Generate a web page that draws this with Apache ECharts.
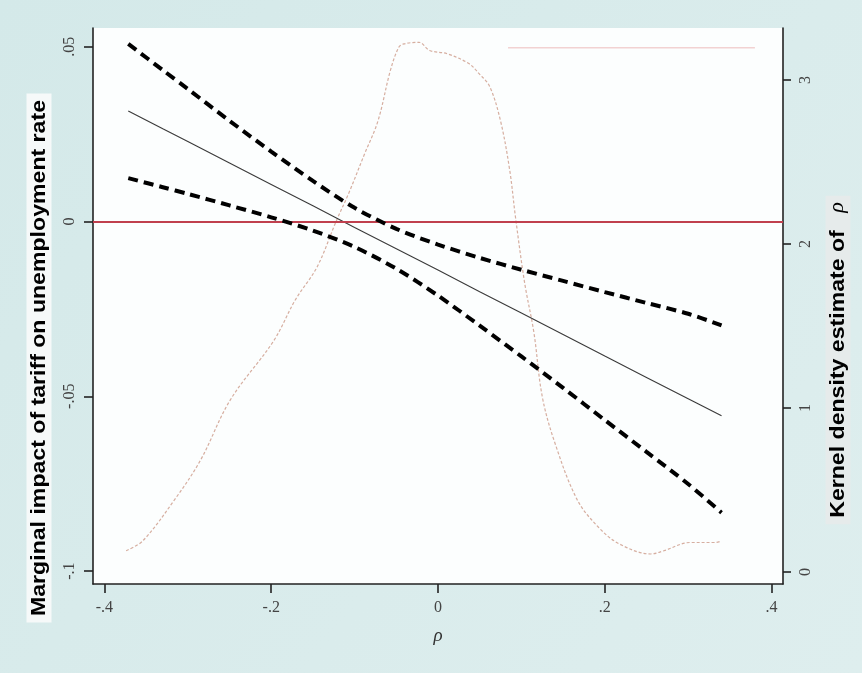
<!DOCTYPE html>
<html>
<head>
<meta charset="utf-8">
<script src="https://cdn.jsdelivr.net/npm/echarts@6/dist/echarts.min.js"></script>
<style>
html,body{margin:0;padding:0;background:#d9ecec;}
#chart{width:862px;height:673px;}
</style>
</head>
<body>
<div id="chart"></div>
<script>
// Tick values and labels
var xTickVals = [-0.4, -0.2, 0, 0.2, 0.4];
var xTickLabels = ['-.4', '-.2', '0', '.2', '.4'];
var yLeftTickVals = [-0.1, -0.05, 0, 0.05];
var yLeftTickLabels = ['-.1', '-.05', '0', '.05'];
var yRightTickVals = [0, 1, 2, 3];
var yRightTickLabels = ['0', '1', '2', '3'];

// Marginal impact and confidence bounds
var rhoX = [-0.3714, -0.33, -0.3, -0.25, -0.2, -0.15, -0.1, -0.05, 0, 0.05, 0.1, 0.15, 0.2, 0.25, 0.3, 0.34];
var fitted = [0.0316, 0.0265, 0.0229, 0.0167, 0.0106, 0.0045, -0.0017, -0.0078, -0.0139, -0.0201, -0.0262, -0.0323, -0.0385, -0.0446, -0.0507, -0.0556];
var upperCI = [0.0508, 0.0433, 0.0379, 0.0288, 0.0200, 0.0116, 0.0039, -0.0021, -0.0066, -0.0104, -0.0138, -0.0170, -0.0202, -0.0233, -0.0264, -0.0297];
var lowerCI = [0.0124, 0.0098, 0.0079, 0.0046, 0.0012, -0.0026, -0.0073, -0.0135, -0.0212, -0.0298, -0.0386, -0.0476, -0.0568, -0.0659, -0.0751, -0.0833];

// Kernel density of rho
var densX = [-0.374, -0.354, -0.316, -0.285, -0.249, -0.197, -0.171, -0.145, -0.122, -0.107, -0.088, -0.072, -0.057, -0.047, -0.041, -0.023, -0.010, 0.011, 0.037, 0.049, 0.062, 0.075, 0.086, 0.093, 0.104, 0.115, 0.125, 0.140, 0.167, 0.193, 0.218, 0.255, 0.271, 0.302, 0.333, 0.340];
var densY = [0.13, 0.19, 0.44, 0.68, 1.05, 1.41, 1.66, 1.86, 2.14, 2.31, 2.55, 2.75, 3.06, 3.20, 3.22, 3.23, 3.18, 3.16, 3.10, 3.04, 2.96, 2.75, 2.45, 2.16, 1.76, 1.46, 1.07, 0.79, 0.44, 0.27, 0.17, 0.11, 0.13, 0.18, 0.18, 0.19];

// faint scan line near top
var faintX = [0.084, 0.38];
var faintY = [0.0497, 0.0497];

function zip(a, b) { return a.map(function (v, i) { return [v, b[i]]; }); }
function lookup(vals, labels) {
  return function (v) {
    for (var i = 0; i < vals.length; i++) if (Math.abs(vals[i] - v) < 1e-9) return labels[i];
    return '';
  };
}

var chart = echarts.init(document.getElementById('chart'), null, {renderer: 'canvas'});
var tickFont = {fontFamily: '"Liberation Serif", "DejaVu Serif", serif', fontSize: 16, color: '#444'};
var axisLineStyle = {color: '#222', width: 1.6};

chart.setOption({
  backgroundColor: {
    type: 'linear', x: 0, y: 0, x2: 1, y2: 1,
    colorStops: [{offset: 0, color: '#d4e9e9'}, {offset: 1, color: '#deeeee'}]
  },
  animation: false,
  grid: {left: 93, right: 79, top: 28, bottom: 89, show: true, backgroundColor: '#fcfefe', borderWidth: 0},
  xAxis: {
    type: 'value', min: -0.4137, max: 0.4137,
    name: 'ρ', nameLocation: 'middle', nameGap: 42,
    nameTextStyle: {fontFamily: '"Liberation Serif", "DejaVu Serif", serif', fontStyle: 'italic', fontSize: 19, color: '#333'},
    axisLine: {show: true, onZero: false, lineStyle: axisLineStyle},
    axisTick: {show: true, length: 9, customValues: xTickVals, lineStyle: axisLineStyle},
    axisLabel: Object.assign({customValues: xTickVals, margin: 16, formatter: lookup(xTickVals, xTickLabels)}, tickFont),
    splitLine: {show: false}
  },
  yAxis: [{
    type: 'value', min: -0.1037, max: 0.05535, position: 'left',
    axisLine: {show: true, onZero: false, lineStyle: axisLineStyle},
    axisTick: {show: true, length: 9, customValues: yLeftTickVals, lineStyle: axisLineStyle},
    axisLabel: Object.assign({customValues: yLeftTickVals, rotate: 90, margin: 15, formatter: lookup(yLeftTickVals, yLeftTickLabels)}, tickFont),
    splitLine: {show: false}
  }, {
    type: 'value', min: -0.073, max: 3.317, position: 'right',
    axisLine: {show: true, onZero: false, lineStyle: axisLineStyle},
    axisTick: {show: true, length: 8, customValues: yRightTickVals, lineStyle: axisLineStyle},
    axisLabel: Object.assign({customValues: yRightTickVals, rotate: 90, margin: 15, formatter: lookup(yRightTickVals, yRightTickLabels)}, tickFont),
    splitLine: {show: false}
  }],
  graphic: [{
    type: 'text', x: 39, y: 358, rotation: Math.PI / 2, scaleX: 1.1,
    style: {
      text: 'Marginal impact of tariff on unemployment rate',
      fontFamily: '"Liberation Sans", Arial, sans-serif', fontWeight: 'bold', fontSize: 21,
      fill: '#000', align: 'center', verticalAlign: 'middle',
      backgroundColor: '#f6f9f9', padding: [2, 6]
    }
  }, {
    type: 'text', x: 838, y: 360, rotation: Math.PI / 2, scaleX: 1.1,
    style: {
      text: '{a|Kernel density estimate of }{b|  ρ}',
      align: 'center', verticalAlign: 'middle',
      backgroundColor: '#e6ebeb', padding: [2, 6],
      rich: {
        a: {fontFamily: '"Liberation Sans", Arial, sans-serif', fontWeight: 'bold', fontSize: 21, fill: '#000', color: '#000'},
        b: {fontFamily: '"Liberation Serif", serif', fontStyle: 'italic', fontSize: 20, color: '#000', fill: '#000'}
      }
    }
  }],
  series: [{
    name: 'faint', type: 'line', data: zip(faintX, faintY), showSymbol: false, silent: true,
    lineStyle: {color: '#f2d2d2', width: 1.5}, z: 1
  }, {
    name: 'density', type: 'line', yAxisIndex: 1, data: zip(densX, densY), smooth: 0.35,
    showSymbol: false, lineStyle: {color: '#d2a596', width: 1.2, type: [3, 2], opacity: 0.9}, z: 2
  }, {
    name: 'zero', type: 'line', data: [],
    markLine: {silent: true, symbol: 'none', label: {show: false},
      lineStyle: {color: '#c0404e', width: 2, type: 'solid'}, data: [{yAxis: 0}]}, z: 3
  }, {
    name: 'fitted', type: 'line', data: zip(rhoX, fitted), showSymbol: false,
    lineStyle: {color: '#3a3a3a', width: 1.1}, z: 4
  }, {
    name: 'upper', type: 'line', data: zip(rhoX, upperCI), showSymbol: false, smooth: 0.3,
    lineStyle: {color: '#000', width: 4, type: [10, 6]}, z: 5
  }, {
    name: 'lower', type: 'line', data: zip(rhoX, lowerCI), showSymbol: false, smooth: 0.3,
    lineStyle: {color: '#000', width: 4, type: [10, 6]}, z: 5
  }]
});
</script>
</body>
</html>
